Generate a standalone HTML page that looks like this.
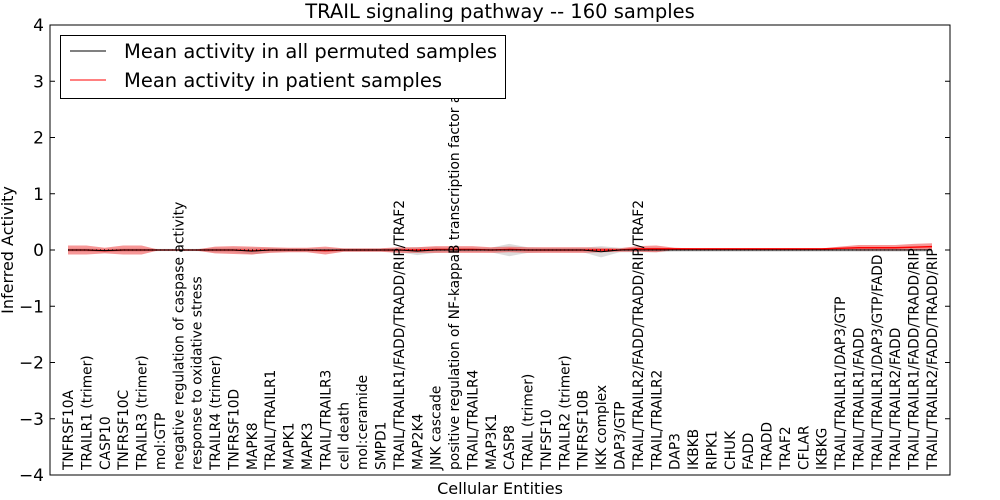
<!DOCTYPE html>
<html><head><meta charset="utf-8"><style>
body{margin:0;background:#fff;}
svg{display:block;font-family:"DejaVu Sans","Liberation Sans",sans-serif;}
</style></head><body>
<svg id="chart" width="1000" height="500"></svg>
<script>
const categories=["TNFRSF10A","TRAILR1 (trimer)","CASP10","TNFRSF10C","TRAILR3 (trimer)","mol:GTP","negative regulation of caspase activity","response to oxidative stress","TRAILR4 (trimer)","TNFRSF10D","MAPK8","TRAIL/TRAILR1","MAPK1","MAPK3","TRAIL/TRAILR3","cell death","mol:ceramide","SMPD1","TRAIL/TRAILR1/FADD/TRADD/RIP/TRAF2","MAP2K4","JNK cascade","positive regulation of NF-kappaB transcription factor a","TRAIL/TRAILR4","MAP3K1","CASP8","TRAIL (trimer)","TNFSF10","TRAILR2 (trimer)","TNFRSF10B","IKK complex","DAP3/GTP","TRAIL/TRAILR2/FADD/TRADD/RIP/TRAF2","TRAIL/TRAILR2","DAP3","IKBKB","RIPK1","CHUK","FADD","TRADD","TRAF2","CFLAR","IKBKG","TRAIL/TRAILR1/DAP3/GTP","TRAIL/TRAILR1/FADD","TRAIL/TRAILR1/DAP3/GTP/FADD","TRAIL/TRAILR2/FADD","TRAIL/TRAILR1/FADD/TRADD/RIP","TRAIL/TRAILR2/FADD/TRADD/RIP"];
const patientMean=[0,0,-0.01,0,0,0,0,0,0,0,-0.01,0,0,0,-0.01,0,0,0,0,0,0.01,0.01,0.01,0,0.01,0,0,0,0,0,0,0.02,0.02,0.02,0.02,0.02,0.02,0.02,0.02,0.02,0.02,0.02,0.03,0.04,0.04,0.04,0.05,0.06];
const patientSd=[0.08,0.08,0.05,0.08,0.08,0,0,0.01,0.06,0.07,0.07,0.05,0.04,0.04,0.07,0.03,0.03,0.03,0.05,0.05,0.06,0.06,0.06,0.05,0.05,0.05,0.05,0.05,0.05,0.04,0.03,0.05,0.06,0.02,0.01,0.01,0.01,0.01,0.01,0.01,0.01,0.01,0.03,0.05,0.05,0.05,0.06,0.06];
const permMean=[0,0,-0.01,0,0,0,0,0,0,0,-0.02,0,0,0,0,0,0,0,0,-0.02,0,0,0,0,0,0,0,0,0,-0.03,0,0,0,0,0,0,0,0,0,0,0,0,0,0,0,0,0,0];
const permSd=[0.03,0.03,0.03,0.03,0.03,0.02,0.02,0.02,0.04,0.04,0.06,0.04,0.03,0.03,0.03,0.03,0.03,0.03,0.04,0.07,0.05,0.04,0.04,0.04,0.11,0.05,0.04,0.04,0.04,0.1,0.04,0.04,0.04,0.03,0.03,0.03,0.03,0.03,0.03,0.03,0.03,0.03,0.03,0.03,0.03,0.03,0.03,0.03];
const yTicks=[-4,-3,-2,-1,0,1,2,3,4];

const NS="http://www.w3.org/2000/svg";
const svg=document.getElementById('chart');
const L=50,R=950,T=25,B=475;
const x0=68,x1=932;
function xs(i){return x0+(x1-x0)*i/(categories.length-1);}
function ys(v){return B-(v+4)/8*(B-T);}
function mk(tag,attrs,parent){const e=document.createElementNS(NS,tag);for(const k in attrs)e.setAttribute(k,attrs[k]);(parent||svg).appendChild(e);return e;}
function band(mean,sd,fill,op){let up=mean.map((m,i)=>xs(i)+","+ys(m+sd[i]));let dn=mean.map((m,i)=>xs(i)+","+ys(m-sd[i])).reverse();return mk('polygon',{points:up.concat(dn).join(' '),fill:fill,'fill-opacity':op});}
const gb=band(permMean,permSd,'#c0c0c0',0.55);


const rb=band(patientMean,patientSd,'#f03030',0.5);


const rl=mk('polyline',{points:patientMean.map((m,i)=>xs(i)+","+ys(m)).join(' '),fill:'none',stroke:'#ff0000','stroke-width':1.5});


const kl=mk('polyline',{points:permMean.map((m,i)=>xs(i)+","+ys(m)).join(' '),fill:'none',stroke:'#000','stroke-width':1});


const dl=mk('line',{x1:x0,x2:x1,y1:ys(0),y2:ys(0),stroke:'#000','stroke-width':1.2,'stroke-dasharray':'1,3'});


categories.forEach((c,i)=>{
  const t=mk('text',{transform:`translate(${xs(i)+5},470) rotate(-90)`,'font-size':13.8,fill:'#000'});
  t.textContent=c;
  
  
});
const fr=mk('rect',{x:L,y:T,width:R-L,height:B-T,fill:'none',stroke:'#000','stroke-width':1});


yTicks.forEach(v=>{
  mk('line',{x1:L,x2:L+5,y1:ys(v),y2:ys(v),stroke:'#000'});
  mk('line',{x1:R-5,x2:R,y1:ys(v),y2:ys(v),stroke:'#000'});
  const t=mk('text',{x:L-6,y:ys(v)+6,'font-size':17,'text-anchor':'end'});
  t.textContent=(v<0?'\u2212'+(-v):v);
  
  
});
</script>
<script>
(function(){
const svg=document.getElementById('chart');const NS="http://www.w3.org/2000/svg";
function mk(tag,attrs){const e=document.createElementNS(NS,tag);for(const k in attrs)e.setAttribute(k,attrs[k]);svg.appendChild(e);return e;}
const ti=mk('text',{x:500,y:18,'font-size':19.5,'text-anchor':'middle'});ti.textContent='TRAIL signaling pathway -- 160 samples';


const yl=mk('text',{transform:'translate(13,250) rotate(-90)','font-size':16,'text-anchor':'middle'});yl.textContent='Inferred Activity';


const xl=mk('text',{x:500,y:494,'font-size':16,'text-anchor':'middle'});xl.textContent='Cellular Entities';


const lg=mk('rect',{x:60.5,y:35.5,width:445,height:63,fill:'#fff',stroke:'#000'});


mk('line',{x1:70,x2:106,y1:51,y2:51,stroke:'#000'});
mk('line',{x1:70,x2:106,y1:80,y2:80,stroke:'#ff0000'});
const a=mk('text',{x:124,y:58,'font-size':19.5});a.textContent='Mean activity in all permuted samples';


const b=mk('text',{x:124,y:87,'font-size':19.5});b.textContent='Mean activity in patient samples';


})();
</script>
</body></html>
